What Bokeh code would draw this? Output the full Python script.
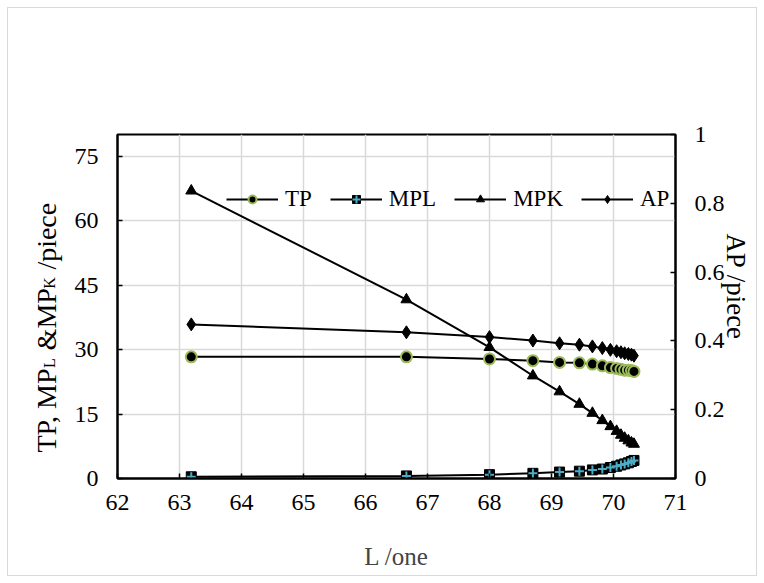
from bokeh.plotting import figure
from bokeh.layouts import row
from bokeh.models import (Range1d, LinearAxis, FixedTicker, Legend, LegendItem,
                          Label, InlineStyleSheet)
from bokeh.embed import file_html
from bokeh.resources import INLINE
from math import pi

# ---- data ----
L = [63.19, 66.66, 68.00, 68.70, 69.13, 69.45, 69.66, 69.82, 69.95, 70.05,
     70.12, 70.18, 70.24, 70.29, 70.33]
TP = [28.3, 28.3, 27.8, 27.4, 27.0, 26.9, 26.6, 26.2, 25.8, 25.6,
      25.4, 25.2, 25.2, 25.1, 24.9]
MPL = [0.4, 0.6, 0.9, 1.2, 1.5, 1.7, 2.0, 2.2, 2.55, 2.85,
       3.15, 3.4, 3.65, 3.95, 4.2]
MPK = [66.9, 41.6, 30.5, 23.9, 20.2, 17.3, 15.2, 13.5, 12.1, 11.0,
       10.1, 9.4, 8.8, 8.3, 8.0]
AP = [0.448, 0.425, 0.411, 0.401, 0.393, 0.389, 0.384, 0.379, 0.374, 0.370,
      0.367, 0.364, 0.362, 0.360, 0.357]

x_ticks = list(range(62, 72))
left_ticks = [0, 15, 30, 45, 60, 75]
right_ticks = [0, 0.2, 0.4, 0.6, 0.8, 1]
right_tick_labels = {0: "0", 0.2: "0.2", 0.4: "0.4", 0.6: "0.6", 0.8: "0.8", 1: "1"}

FONT = "Liberation Serif"
GREEN = "#9BBB59"
CYAN = "#4BACC6"
GRID = "#d9d9d9"
H = 567
NB = "\u00a0"

# ---- main chart ----
p = figure(width=686, height=H, x_range=Range1d(62, 71), y_range=Range1d(0, 80),
           output_backend="svg", toolbar_location=None,
           min_border_left=47, min_border_right=81, min_border_top=126,
           min_border_bottom=97)
p.background_fill_color = "white"
p.border_fill_color = "white"
p.outline_line_color = "black"
p.outline_line_width = 2

p.extra_y_ranges = {"ap": Range1d(0, 1)}

p.xaxis.ticker = FixedTicker(ticks=x_ticks)
p.yaxis.ticker = FixedTicker(ticks=left_ticks)
p.xgrid.ticker = FixedTicker(ticks=x_ticks)
p.ygrid.ticker = FixedTicker(ticks=left_ticks)
for g in (p.xgrid, p.ygrid):
    g.grid_line_color = GRID
    g.grid_line_width = 1.5

right = LinearAxis(y_range_name="ap", ticker=FixedTicker(ticks=right_ticks))
right.major_label_overrides = right_tick_labels
p.add_layout(right, "right")

for ax in [p.xaxis[0], p.yaxis[0], right]:
    ax.axis_line_color = "black"
    ax.axis_line_width = 2
    ax.major_tick_in = 5
    ax.major_tick_out = 0
    ax.major_tick_line_width = 1.5
    ax.major_tick_line_color = "black"
    ax.minor_tick_line_color = None
    ax.major_label_text_font = FONT
    ax.major_label_text_font_size = "24px"
    ax.major_label_text_color = "black"

p.xaxis[0].major_label_standoff = 16
p.yaxis[0].major_label_standoff = 19
right.major_label_standoff = 19

p.xaxis[0].axis_label = "L /one"
p.xaxis[0].axis_label_text_font = FONT
p.xaxis[0].axis_label_text_font_size = "25px"
p.xaxis[0].axis_label_text_font_style = "normal"
p.xaxis[0].axis_label_standoff = 30

# trailing no-break spaces lift the centred title a little, as in the reference
right.axis_label = "AP" + NB + "/piece" + NB * 6
right.axis_label_text_font = FONT
right.axis_label_text_font_size = "27px"
right.axis_label_text_font_style = "normal"
right.axis_label_text_color = "black"
right.axis_label_standoff = -7

# ---- series ----
tp_line = p.line(L, TP, line_color="black", line_width=2)
tp_pts = p.scatter(L, TP, marker="circle", size=11, fill_color="black",
                   line_color=GREEN, line_width=2)

mpl_line = p.line(L, MPL, line_color="black", line_width=2)
mpl_sq = p.scatter(L, MPL, marker="square", size=10, fill_color="black",
                   line_color="black", line_width=1)
mpl_cr = p.scatter(L, MPL, marker="cross", size=9, line_color=CYAN, line_width=2)

mpk_line = p.line(L, MPK, line_color="black", line_width=2)
mpk_pts = p.scatter(L, MPK, marker="triangle", size=11, fill_color="black",
                    line_color="black")

ap_line = p.line(L, AP, line_color="black", line_width=2, y_range_name="ap")
ap_pts = p.scatter(L, AP, marker="diamond", size=13, fill_color="black",
                   line_color="black", y_range_name="ap")

legend = Legend(items=[
    LegendItem(label="TP", renderers=[tp_line, tp_pts]),
    LegendItem(label="MPL", renderers=[mpl_line, mpl_sq, mpl_cr]),
    LegendItem(label="MPK", renderers=[mpk_line, mpk_pts]),
    LegendItem(label="AP", renderers=[ap_line, ap_pts]),
], orientation="horizontal", location=(109, 266))
legend.glyph_width = 52
legend.glyph_height = 20
legend.label_standoff = 7
legend.spacing = 18
legend.padding = 0
legend.margin = 0
legend.border_line_alpha = 0
legend.background_fill_alpha = 0
legend.label_text_font = FONT
legend.label_text_font_size = "23px"
legend.label_text_color = "black"
p.add_layout(legend, "center")

# ---- left strip holding the rotated left-axis title with subscripts ----
lf = figure(width=62, height=H, x_range=Range1d(0, 62), y_range=Range1d(0, H),
            output_backend="svg", toolbar_location=None,
            x_axis_location=None, y_axis_location=None,
            min_border_left=0, min_border_right=0, min_border_top=0,
            min_border_bottom=0)
lf.grid.visible = False
lf.outline_line_color = None
lf.background_fill_color = "white"
lf.border_fill_color = "white"

main_sz, sub_sz = 28, 16
pieces = [("TP, MP", main_sz, 0, 3.02), ("L", sub_sz, 3, 0.66),
          (NB + "&MP", main_sz, 0, 2.45), ("K", sub_sz, 3, 0.76),
          (NB + "/piece", main_sz, 0, 2.638)]
ypos = 26.0
for txt, sz, dx, em in pieces:
    lf.add_layout(Label(x=38 + dx, y=ypos, x_units="screen", y_units="screen",
                        text=txt, angle=pi / 2, text_font=FONT,
                        text_font_size=f"{sz}px", text_align="left",
                        text_baseline="alphabetic", text_color="black"))
    ypos += em * sz

layout = row(lf, p, spacing=0)
layout.margin = (8, 0, 0, 8)
layout.stylesheets = [InlineStyleSheet(css=":host { outline: 1px solid #d9d9d9; }")]

open("out.html", "w").write(file_html(layout, INLINE))
